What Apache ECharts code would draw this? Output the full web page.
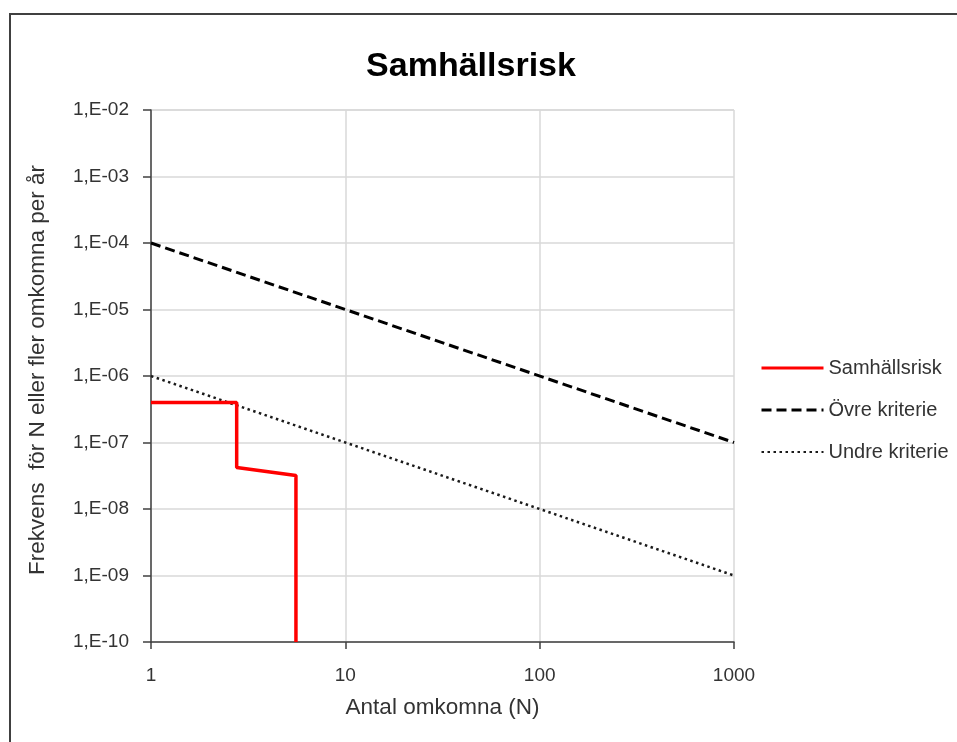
<!DOCTYPE html>
<html>
<head>
<meta charset="utf-8">
<script src="https://cdn.jsdelivr.net/npm/echarts@6/dist/echarts.min.js"></script>
<style>
  html, body { margin: 0; padding: 0; background: #fff; }
  #wrap { position: relative; width: 957px; height: 742px; overflow: hidden; }
  #chart { position: absolute; left: 0; top: 0; width: 957px; height: 742px; }
  #frame {
    position: absolute; left: 9px; top: 13px; width: 2000px; height: 2000px;
    border-left: 2px solid #404040; border-top: 2px solid #404040;
    pointer-events: none;
  }
</style>
</head>
<body>
<div id="wrap">
  <div id="chart"></div>
  <div id="frame"></div>
</div>
<script>
// Samhällsrisk – F/N-kurva
const riskN     = [1, 2.76, 2.76, 5.57, 5.57];
const riskFreq  = [4e-7, 4e-7, 4.2e-8, 3.2e-8, 1e-10];
const critN     = [1, 1000];
const ovreFreq  = [1e-4, 1e-7];
const undreFreq = [1e-6, 1e-9];

const FONT = 'Liberation Sans, Arial, sans-serif';
const TXT = '#333';

const zip = (xs, ys) => xs.map((x, i) => [x, ys[i]]);

function expLabel(v) {
  const e = Math.round(Math.log10(v));
  return '1,E' + (e < 0 ? '-' : '+') + String(Math.abs(e)).padStart(2, '0');
}

const chart = echarts.init(document.getElementById('chart'));
chart.setOption({
  animation: false,
  title: {
    text: 'Samhällsrisk',
    left: 466, top: 45, textAlign: 'center',
    textStyle: { fontFamily: FONT, fontSize: 34, fontWeight: 'bold', color: '#000' },
  },
  legend: {
    orient: 'vertical', left: 755, top: 353,
    itemWidth: 62, itemHeight: 20, itemGap: 22,
    textStyle: { fontFamily: FONT, fontSize: 20, color: TXT },
    data: [
      { name: 'Samhällsrisk', lineStyle: { width: 3 } },
      { name: 'Övre kriterie', lineStyle: { width: 3 } },
      { name: 'Undre kriterie', lineStyle: { width: 2 } },
    ],
  },
  grid: { left: 151, right: 223, top: 110, bottom: 100 },
  xAxis: {
    type: 'log', logBase: 10, min: 1, max: 1000, interval: 1,
    name: 'Antal omkomna (N)', nameLocation: 'middle', nameGap: 54,
    nameTextStyle: { fontFamily: FONT, fontSize: 22.5, color: TXT },
    axisLine: { lineStyle: { color: '#404040', width: 1.5 } },
    axisTick: { show: true, length: 7, lineStyle: { color: '#404040', width: 1.5 } },
    minorTick: { show: false },
    axisLabel: { margin: 24, fontFamily: FONT, fontSize: 19, color: TXT, formatter: v => String(Math.round(v)) },
    splitLine: { show: true, lineStyle: { color: '#d9d9d9', width: 1.5 } },
  },
  yAxis: {
    type: 'log', logBase: 10, min: 1e-10, max: 1e-2, interval: 1,
    name: 'Frekvens  för N eller fler omkomna per år', nameLocation: 'middle', nameGap: 102,
    nameTextStyle: { fontFamily: FONT, fontSize: 22.5, color: TXT, padding: [0, 0, 0, 12] },
    axisLine: { show: true, lineStyle: { color: '#404040', width: 1.5 } },
    axisTick: { show: true, length: 8, lineStyle: { color: '#404040', width: 1.5 } },
    axisLabel: { margin: 22, fontFamily: FONT, fontSize: 19, color: TXT, formatter: expLabel },
    splitLine: { show: true, lineStyle: { color: '#d9d9d9', width: 1.5 } },
  },
  series: [
    {
      name: 'Samhällsrisk', type: 'line', symbol: 'none',
      data: zip(riskN, riskFreq),
      itemStyle: { color: 'transparent' },
      lineStyle: { color: '#ff0000', width: 3.5 },
      z: 4,
    },
    {
      name: 'Övre kriterie', type: 'line', symbol: 'none',
      data: zip(critN, ovreFreq),
      itemStyle: { color: 'transparent' },
      lineStyle: { color: '#000', width: 3, type: [10, 5] },
    },
    {
      name: 'Undre kriterie', type: 'line', symbol: 'none',
      data: zip(critN, undreFreq),
      itemStyle: { color: 'transparent' },
      lineStyle: { color: '#1a1a1a', width: 2.5, type: [2.5, 3.5] },
    },
  ],
});
</script>
</body>
</html>
